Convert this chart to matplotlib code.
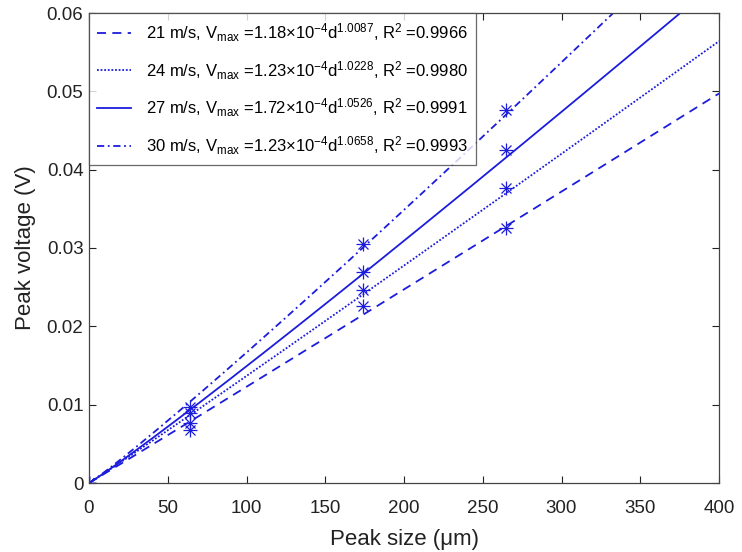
import numpy as np
import matplotlib
matplotlib.use("Agg")
import matplotlib.pyplot as plt

plt.rcParams['font.family'] = ['Liberation Sans', 'DejaVu Sans']
plt.rcParams['mathtext.fontset'] = 'custom'
plt.rcParams['mathtext.rm'] = 'Liberation Sans'
plt.rcParams['mathtext.it'] = 'Liberation Sans'
plt.rcParams['mathtext.default'] = 'regular'

# Data
speeds = ["21 m/s", "24 m/s", "27 m/s", "30 m/s"]
peak_size = [0, 64, 174, 265]
v21 = [0, 0.0068, 0.0226, 0.0325]
v24 = [0, 0.0077, 0.0246, 0.0376]
v27 = [0, 0.0089, 0.0270, 0.0425]
v30 = [0, 0.0097, 0.0305, 0.0476]
# fit curves V = a * d^b (as drawn)
fit_a = [1.18e-4, 1.23e-4, 1.17e-4, 1.23e-4]
fit_b = [1.0087, 1.0228, 1.0526, 1.0658]
# legend texts
legend_coef = ["1.18", "1.23", "1.72", "1.23"]
legend_exp = ["1.0087", "1.0228", "1.0526", "1.0658"]
legend_r2 = ["0.9966", "0.9980", "0.9991", "0.9993"]
x_ticks = [0, 50, 100, 150, 200, 250, 300, 350, 400]
y_ticks = [0, 0.01, 0.02, 0.03, 0.04, 0.05, 0.06]
y_tick_labels = ["0", "0.01", "0.02", "0.03", "0.04", "0.05", "0.06"]

styles = ['--', ':', '-', '-.']
color = '#1c1cdc'

fig = plt.figure(figsize=(7.42, 5.52), dpi=100)
ax = fig.add_axes([89/742, (552-483)/552, (719-89)/742, (483-13)/552])

d = np.linspace(0, 400, 801)
series = [v21, v24, v27, v30]
handles = []
for i in range(4):
    lbl = (f"{speeds[i]}, V$_{{max}}$ ={legend_coef[i]}\u00d710$^{{-4}}$"
           f"d$^{{{legend_exp[i]}}}$, R$^2$ ={legend_r2[i]}")
    ls = styles[i]
    kw = {}
    if ls == '--':
        kw['dashes'] = (5, 3.5)
    elif ls == ':':
        kw['dashes'] = (1, 1)
    elif ls == '-.':
        kw['dashes'] = (4, 2, 1, 2)
    h, = ax.plot(d, fit_a[i] * d ** fit_b[i], color=color, lw=1.3, label=lbl, **kw)
    handles.append(h)
    # MATLAB-style asterisk marker: '+' and 'x' overlaid
    ax.plot(peak_size, series[i], linestyle='none', marker='+', color=color,
            markersize=9.5, markeredgewidth=0.9)
    ax.plot(peak_size, series[i], linestyle='none', marker='x', color=color,
            markersize=7, markeredgewidth=0.9)

ax.set_xlim(0, 400)
ax.set_ylim(0, 0.06)
ax.set_xticks(x_ticks)
ax.set_xticklabels([str(t) for t in x_ticks])
ax.set_yticks(y_ticks)
ax.set_yticklabels(y_tick_labels)
ax.tick_params(direction='in', top=True, right=True, length=5, width=0.8,
               labelsize=13.5, colors='#222222')
ax.tick_params(axis='x', pad=12)
ax.tick_params(axis='y', pad=4)
for s in ax.spines.values():
    s.set_color('#444444')
    s.set_linewidth(0.9)

ax.set_xlabel("Peak size (\u03bcm)", fontsize=16, color='#222222', labelpad=9)
ax.set_ylabel("Peak voltage (V)", fontsize=16, color='#222222', labelpad=8)

leg = ax.legend(handles=handles, loc='upper left', borderaxespad=0, fontsize=12,
                handlelength=2.0, handletextpad=0.9, labelspacing=0.9,
                fancybox=False, frameon=True, borderpad=0.5)
leg.get_frame().set_edgecolor('#444444')
leg.get_frame().set_linewidth(0.9)

fig.savefig("out.png", dpi=100)
